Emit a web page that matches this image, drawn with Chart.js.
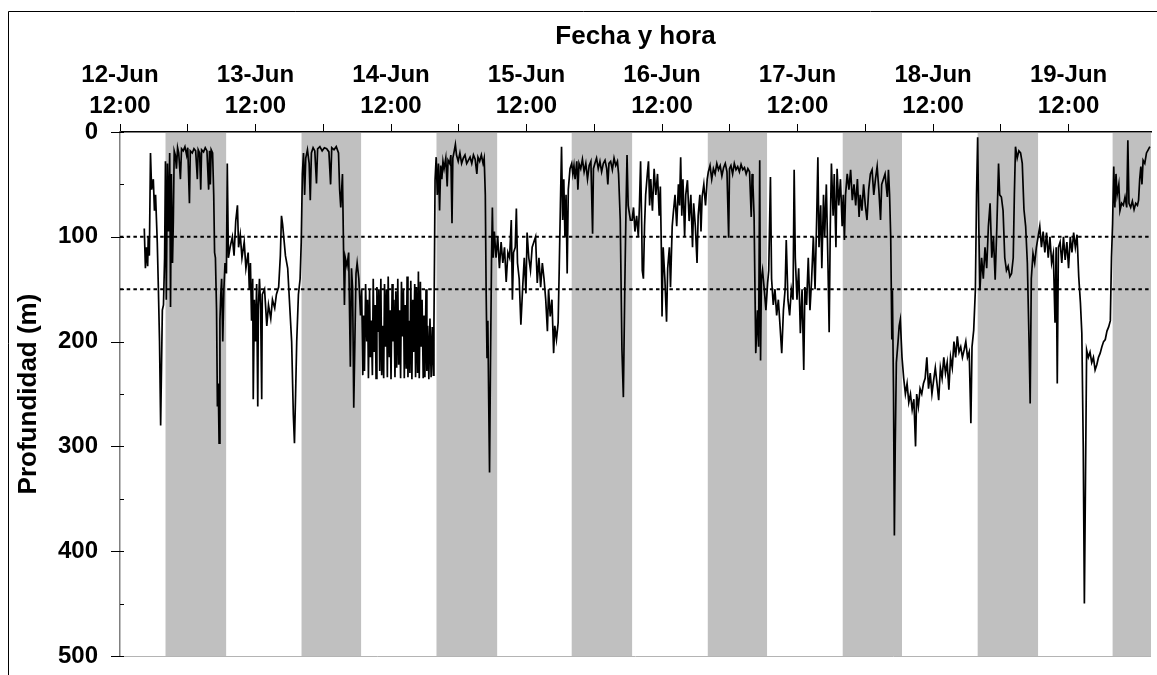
<!DOCTYPE html>
<html>
<head>
<meta charset="utf-8">
<script src="https://cdn.jsdelivr.net/npm/chart.js@4/dist/chart.umd.min.js"></script>
<style>
  html, body { margin: 0; padding: 0; background: #fff; }
  canvas { display: block; }
</style>
</head>
<body>
<canvas id="c" width="1157" height="675"></canvas>
<script>
// ---- Data (time in hours since 12-Jun 12:00, depth in metres) ----
const dayLabels = ['12-Jun', '13-Jun', '14-Jun', '15-Jun', '16-Jun', '17-Jun', '18-Jun', '19-Jun'];
const noonLabel = '12:00';
const xTitle = 'Fecha y hora';
const yTitle = 'Profundidad (m)';
const xMax = 182.6;
const referenceDepths = [100, 150];
const nightStart = [8.06, 32.15, 56.05, 80.0, 104.1, 128.0, 151.9, 175.8];
const nightEnd   = [18.8, 42.7, 66.8, 90.7, 114.6, 138.5, 162.6, 182.6];

const track12 = [[4.3,92],[4.5,130],[4.7,110],[4.9,128],[5.0,100],[5.2,118],[5.4,20],[5.6,55],[5.9,45],[6.1,75],[6.3,60],[6.6,105],[6.8,150],[7.0,200],[7.2,280],[7.35,225],[7.5,170],[7.7,165],[7.9,120],[8.05,28],
[8.2,160],[8.4,30],[8.6,95],[8.8,20],[8.95,167],[9.1,40],[9.3,125],[9.45,84],[9.6,18],[9.8,22],[10.0,35],[10.2,15],[10.4,20],[10.7,45],[10.9,16],[11.2,18],[11.5,14],[11.8,22],[12.0,15],[12.3,68],[12.45,18],[12.8,20],[13.1,16],[13.4,18],[13.7,45],[13.85,17],[14.1,20],[14.3,55],[14.45,17],[14.8,19],[15.1,15],[15.4,18],[15.7,55],[15.85,18],[16.0,50],[16.15,17],[16.4,20],[16.6,60],[16.75,115],[16.9,120],[17.1,170],[17.25,262],[17.4,240],[17.55,297],[17.7,180],[17.85,155],[18.0,140],[18.2,200],[18.4,150],[18.6,125],[18.85,135],[19.0,30],[19.2,120],
[19.5,110],[19.9,100],[20.2,118],[20.5,85],[20.8,70],[21.0,110],[21.3,98],[21.6,120],[22.0,105],[22.3,130],[22.7,115],[22.9,150],[23.1,125],[23.3,180],[23.5,140],[23.6,255],[23.8,160]];

const track13 = [[24.0,200],[24.2,145],[24.4,262],[24.5,170],[24.7,140],[24.9,165],[25.1,255],[25.2,155],[25.6,150],[26.0,185],[26.3,165],[26.7,178],[27.0,160],[27.4,168],[27.7,155],[28.1,148],[28.4,118],[28.6,80],[28.8,88],[29.0,100],[29.3,118],[29.7,130],[30.0,160],[30.4,200],[30.7,270],[30.9,297],[31.1,250],[31.3,200],[31.6,155],[31.9,140],[32.1,105],[32.3,40],[32.5,20],
[32.7,60],[32.9,25],[33.2,17],[33.5,30],[33.7,65],[33.9,20],[34.2,15],[34.5,18],[34.8,49],[35.0,16],[35.4,14],[35.8,18],[36.2,15],[36.6,16],[37.0,19],[37.3,50],[37.5,15],[37.9,17],[38.3,14],[38.7,20],[38.9,55],[39.1,72],[39.4,40],[39.6,115],[39.75,165],[39.9,120],[40.2,128],[40.5,115],[40.8,224],[41.0,130],[41.2,150],[41.4,263],[41.6,200],[41.8,135],[42.0,125],[42.3,140],[42.6,175],
[42.8,150],[43.0,232],[43.15,175],[43.3,228],[43.5,145],[43.7,200],[43.85,160],[44.0,235],[44.2,150],[44.35,215],[44.5,180],[44.7,232],[44.85,140],[45.0,210],[45.2,165],[45.35,235],[45.5,148],[45.7,190],[45.85,150],[46.0,228],[46.2,140],[46.35,232],[46.5,185],[46.7,235],[46.85,145],[47.0,205],[47.2,150],[47.35,234],[47.5,138],[47.7,215],[47.85,170]];

const track14 = [[48.0,236],[48.2,145],[48.35,200],[48.5,160],[48.7,234],[48.85,152],[49.0,225],[49.2,140],[49.35,222],[49.5,170],[49.7,235],[49.85,143],[50.0,195],[50.2,150],[50.35,235],[50.5,165],[50.7,226],[50.85,138],[51.0,234],[51.2,180],[51.35,230],[51.5,142],[51.7,236],[51.85,160],[52.0,210],[52.2,145],[52.35,234],[52.5,148],[52.7,230],[52.85,133],[53.0,235],[53.2,143],[53.35,205],[53.5,160],[53.7,235],[53.85,175],[54.0,234],[54.2,150],[54.35,228],[54.5,185],[54.7,236],[54.9,178],[55.1,234],[55.3,186],[55.5,232],[55.6,186],[55.7,120],[55.8,46],[56.0,24],
[56.2,60],[56.4,30],[56.6,75],[56.8,32],[57.0,45],[57.2,28],[57.4,35],[57.7,25],[57.95,52],[58.1,27],[58.4,30],[58.6,22],[58.8,87],[58.95,25],[59.2,18],[59.4,12],[59.6,22],[59.9,28],[60.2,20],[60.5,30],[60.8,25],[61.1,22],[61.4,30],[61.7,27],[62.0,24],[62.3,30],[62.6,22],[62.9,26],[63.2,40],[63.4,24],[63.7,28],[64.0,22],[64.3,30],[64.5,25],[64.7,60],[64.85,154],[65.0,215],[65.15,180],[65.3,256],[65.45,325],[65.6,230],[65.8,122],[65.95,72],[66.1,120],[66.3,95],
[66.6,120],[66.9,100],[67.2,130],[67.5,105],[67.8,125],[68.1,110],[68.4,143],[68.7,115],[69.0,120],[69.3,84],[69.5,160],[69.7,115],[70.0,110],[70.2,73],[70.4,125],[70.7,140],[71.0,184],[71.3,150],[71.6,120],[71.9,154]];

const track15 = [[72.1,96],[72.4,120],[72.7,132],[73.0,110],[73.3,105],[73.6,100],[73.9,144],[74.2,120],[74.5,148],[74.8,125],[75.1,140],[75.4,160],[75.7,190],[75.9,150],[76.2,176],[76.5,160],[76.8,211],[77.0,185],[77.3,198],[77.6,182],[77.8,128],[78.0,70],[78.2,14],[78.4,84],[78.6,45],[78.8,100],[79.0,60],[79.2,135],[79.4,55],[79.7,35],[80.0,30],
[80.2,40],[80.4,32],[80.6,45],[80.9,28],[81.1,55],[81.3,30],[81.6,35],[81.9,26],[82.2,38],[82.5,30],[82.8,45],[83.1,32],[83.4,28],[83.7,97],[83.85,35],[84.1,30],[84.4,25],[84.7,35],[85.0,28],[85.3,38],[85.6,30],[85.9,27],[86.2,35],[86.4,50],[86.6,30],[86.9,28],[87.2,36],[87.5,25],[87.8,32],[88.1,28],[88.3,40],[88.6,84],[88.9,208],[89.15,253],[89.4,150],[89.6,80],[89.8,22],[90.0,70],[90.4,84],
[90.7,84],[90.95,72],[91.2,95],[91.5,80],[91.8,100],[92.0,70],[92.2,28],[92.4,90],[92.5,132],[92.7,140],[92.9,90],[93.1,60],[93.4,40],[93.6,28],[93.8,70],[94.0,45],[94.3,75],[94.6,35],[94.9,60],[95.2,40],[95.5,80],[95.7,52],[95.9,120]];

const track16 = [[96.0,176],[96.2,110],[96.5,140],[96.8,181],[97.0,130],[97.3,110],[97.5,148],[97.8,90],[98.0,77],[98.3,60],[98.6,90],[98.9,50],[99.1,70],[99.3,24],[99.5,80],[99.7,45],[100.0,100],[100.2,60],[100.5,46],[100.8,85],[101.1,60],[101.4,110],[101.6,68],[101.9,90],[102.2,125],[102.4,80],[102.7,60],[102.9,95],[103.1,62],[103.4,50],[103.7,70],[104.0,45],
[104.2,38],[104.5,32],[104.8,45],[105.1,35],[105.4,40],[105.7,30],[106.0,36],[106.3,32],[106.6,42],[106.9,34],[107.2,30],[107.5,38],[107.8,101],[107.95,35],[108.2,32],[108.5,40],[108.8,30],[109.1,36],[109.4,33],[109.7,38],[110.0,31],[110.3,36],[110.6,34],[110.9,40],[111.2,35],[111.5,38],[111.8,81],[111.95,40],[112.1,50],[112.3,80],[112.6,211],[112.9,170],[113.1,205],[113.3,27],[113.45,218],[113.6,140],[113.8,132],[114.1,150],[114.4,170],[114.7,144],
[114.9,132],[115.2,43],[115.4,140],[115.7,165],[116.0,150],[116.3,175],[116.6,160],[116.9,185],[117.2,211],[117.5,170],[117.8,150],[118.0,103],[118.3,160],[118.6,175],[118.9,150],[119.2,160],[119.4,36],[119.6,120],[119.9,160]];

const track17 = [[120.2,130],[120.5,192],[120.8,150],[121.1,227],[121.3,148],[121.6,165],[121.9,120],[122.2,170],[122.5,140],[122.8,100],[123.1,150],[123.4,80],[123.6,24],[123.8,110],[124.1,70],[124.3,130],[124.6,60],[124.8,100],[125.1,50],[125.4,130],[125.6,191],[125.8,90],[126.0,30],[126.3,80],[126.5,40],[126.8,110],[127.0,35],[127.3,70],[127.6,45],[127.9,90],
[128.1,60],[128.3,103],[128.5,60],[128.8,40],[129.1,55],[129.4,36],[129.7,65],[130.0,50],[130.3,70],[130.6,45],[130.9,81],[131.1,60],[131.4,75],[131.7,50],[132.0,70],[132.3,84],[132.6,55],[132.9,40],[133.2,36],[133.5,60],[133.8,45],[134.1,33],[134.4,55],[134.7,84],[134.9,50],[135.2,45],[135.5,40],[135.9,62],[136.1,36],[136.3,60],[136.5,100],[136.7,198],[136.8,151],[137.0,250],[137.15,385],[137.3,300],[137.5,220],[137.8,200],[138.0,185],[138.2,179],[138.5,215],
[138.8,235],[139.1,250],[139.4,240],[139.7,258],[140.0,250],[140.3,265],[140.6,255],[140.9,300],[141.1,250],[141.4,262],[141.7,245],[142.0,250],[142.3,240],[142.6,235],[142.9,215],[143.2,245],[143.5,230],[143.8,250]];

const track18 = [[144.1,237],[144.4,225],[144.7,240],[145.0,256],[145.3,225],[145.6,235],[145.9,215],[146.2,230],[146.5,220],[146.8,246],[147.1,215],[147.4,225],[147.7,200],[148.0,215],[148.3,195],[148.6,210],[148.9,205],[149.2,215],[149.5,208],[149.8,200],[150.1,215],[150.4,210],[150.7,278],[150.9,205],[151.2,189],[151.5,150],[151.7,60],
[151.9,5],[152.1,90],[152.3,151],[152.6,120],[152.9,140],[153.2,110],[153.5,130],[153.8,90],[154.1,68],[154.4,120],[154.7,100],[155.0,141],[155.3,90],[155.6,30],[155.8,60],[156.1,62],[156.4,75],[156.7,120],[157.0,132],[157.3,128],[157.6,138],[157.9,135],[158.2,120],[158.4,60],[158.6,14],[158.9,25],[159.2,18],[159.5,20],[159.8,30],[160.1,74],[160.4,90],[160.7,125],[161.0,200],[161.2,259],[161.4,140],[161.7,116],[162.0,125],[162.3,110],[162.6,100],
[162.9,90],[163.2,110],[163.5,95],[163.8,115],[164.1,96],[164.4,120],[164.7,100],[165.0,125],[165.3,116],[165.6,182],[165.8,110],[166.0,240],[166.2,110],[166.5,105],[166.8,125],[167.1,100],[167.4,122],[167.7,105]];

const track19 = [[168.0,130],[168.3,100],[168.6,115],[168.9,96],[169.2,110],[169.5,98],[169.8,138],[170.1,163],[170.35,192],[170.6,300],[170.8,450],[171.0,330],[171.2,208],[171.5,215],[171.8,210],[172.1,220],[172.4,215],[172.7,227],[173.0,222],[173.3,215],[173.6,211],[173.9,205],[174.2,200],[174.5,198],[174.8,190],[175.1,186],[175.4,180],[175.6,120],[175.8,87],
[176.0,33],[176.2,72],[176.4,40],[176.6,60],[176.9,50],[177.1,75],[177.4,68],[177.7,70],[178.0,62],[178.3,72],[178.5,8],[178.7,68],[179.0,72],[179.3,66],[179.6,74],[179.9,68],[180.2,70],[180.4,65],[180.6,45],[180.8,33],[181.0,50],[181.2,27],[181.5,30],[181.8,20],[182.1,17],[182.4,14]];

// ---- Chart ----
const FONT = 'Liberation Sans, Arial, Helvetica, sans-serif';
const depthTrack = [].concat(track12, track13, track14, track15, track16, track17, track18, track19);

const decorations = {
  id: 'decorations',
  beforeDraw(chart) {
    const {ctx, width, height} = chart;
    ctx.save();
    ctx.fillStyle = '#ffffff';
    ctx.fillRect(0, 0, width, height);
    ctx.restore();
  },
  beforeDatasetsDraw(chart) {
    const {ctx, chartArea: a, scales: {x}} = chart;
    ctx.save();
    ctx.fillStyle = '#c0c0c0';
    nightStart.forEach((s, i) => {
      const x1 = x.getPixelForValue(s);
      const x2 = x.getPixelForValue(nightEnd[i]);
      ctx.fillRect(x1, a.top + 1, x2 - x1, a.bottom - a.top - 1);
    });
    ctx.restore();
  },
  afterDraw(chart) {
    const {ctx, chartArea: a, scales: {y}} = chart;
    ctx.save();
    ctx.strokeStyle = '#b4b4b4';
    ctx.lineWidth = 1;
    ctx.beginPath();
    ctx.moveTo(a.left, Math.round(a.bottom) + 0.5);
    ctx.lineTo(a.right, Math.round(a.bottom) + 0.5);
    ctx.stroke();
    ctx.strokeStyle = '#000';
    ctx.lineWidth = 1;
    y.ticks.forEach(t => {
      const py = Math.round(y.getPixelForValue(t.value)) + 0.5;
      const major = t.value % 100 === 0;
      ctx.beginPath();
      ctx.moveTo(major ? a.left - 9 : a.left, py);
      ctx.lineTo(a.left + 4, py);
      ctx.stroke();
    });
    ctx.strokeStyle = '#000';
    ctx.beginPath();
    ctx.moveTo(8.5, chart.height + 5);
    ctx.lineTo(8.5, 11.5);
    ctx.lineTo(chart.width + 5, 11.5);
    ctx.stroke();
    ctx.restore();
  }
};

new Chart(document.getElementById('c'), {
  type: 'line',
  data: {
    datasets: [
      {
        label: 'Profundidad',
        data: depthTrack.map(([h, d]) => ({x: h, y: d})),
        borderColor: '#000',
        borderWidth: 1.7,
        pointRadius: 0,
        tension: 0,
        fill: false
      },
      ...referenceDepths.map(d => ({
        label: d + ' m',
        data: [{x: 0, y: d}, {x: xMax, y: d}],
        borderColor: '#000',
        borderWidth: 2,
        borderDash: [3.5, 3.2],
        pointRadius: 0,
        fill: false
      }))
    ]
  },
  options: {
    responsive: false,
    animation: false,
    devicePixelRatio: 1,
    layout: {padding: {left: 0, top: 0, right: 6, bottom: 19}},
    plugins: {legend: {display: false}, tooltip: {enabled: false}},
    scales: {
      x: {
        type: 'linear',
        position: 'top',
        min: 0,
        max: xMax,
        afterBuildTicks: s => { s.ticks = s.ticks.filter(t => t.value % 12 === 0); },
        afterFit: s => { s.height = 132; s.paddingLeft = 0; s.paddingRight = 0; },
        ticks: {
          stepSize: 12,
          autoSkip: false,
          maxRotation: 0,
          minRotation: 0,
          padding: 2.5,
          color: '#000',
          font: {family: FONT, size: 24, weight: 'bold', lineHeight: 1.29},
          callback: v => (v % 24 === 0 ? [dayLabels[v / 24], noonLabel] : '')
        },
        grid: {display: true, drawOnChartArea: false, drawTicks: true, tickLength: 8, color: '#000', lineWidth: 1},
        border: {display: true, color: '#000', width: 1.5},
        title: {
          display: true, text: xTitle, color: '#000',
          font: {family: FONT, size: 26, weight: 'bold', lineHeight: 1.2},
          padding: {top: 21, bottom: 0}
        }
      },
      y: {
        type: 'linear',
        position: 'left',
        reverse: true,
        min: 0,
        max: 500,
        afterFit: s => { s.width = 120; s.paddingTop = 0; s.paddingBottom = 0; },
        ticks: {
          stepSize: 50,
          padding: 14,
          color: '#000',
          font: {family: FONT, size: 24, weight: 'bold'},
          callback: v => (v % 100 === 0 ? String(v) : '')
        },
        grid: {display: false},
        border: {display: true, color: '#808080', width: 1.5},
        title: {
          display: true, text: yTitle, color: '#000',
          font: {family: FONT, size: 26, weight: 'bold', lineHeight: 1.2},
          padding: {top: 13, bottom: 0}
        }
      }
    }
  },
  plugins: [decorations]
});
</script>
</body>
</html>
